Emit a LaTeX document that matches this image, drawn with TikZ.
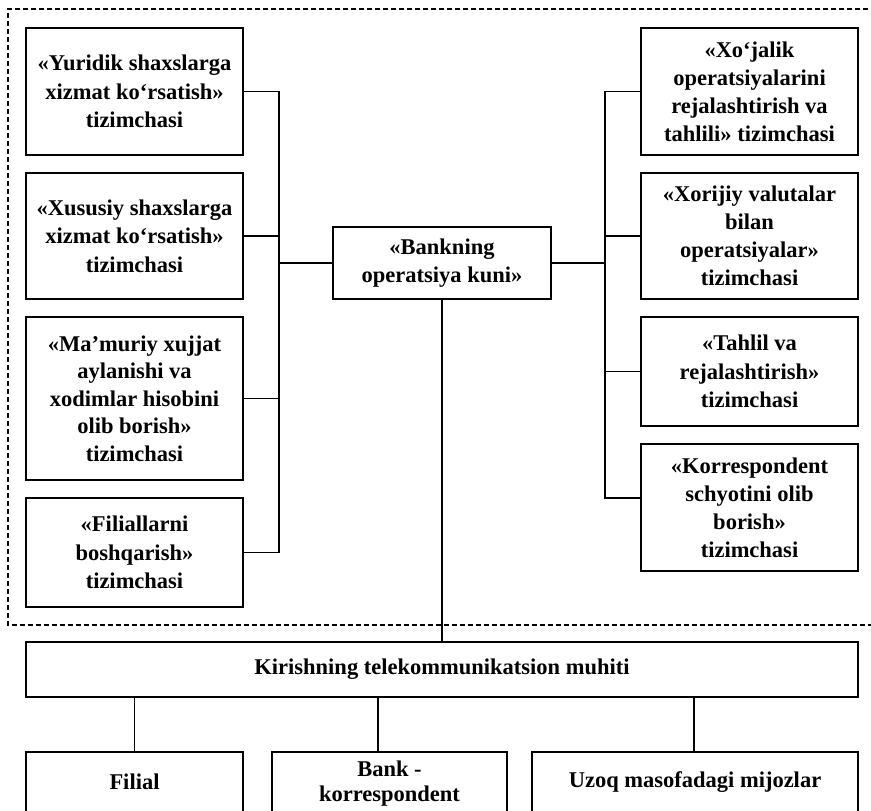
\documentclass[tikz,border=0pt]{standalone}
\usepackage{fontspec}
\setmainfont{Liberation Serif}
\begin{document}
\begin{tikzpicture}[x=1pt,y=-1pt,
  box/.style={draw,line width=1.7pt,inner sep=0pt,align=center,font=\bfseries\fontsize{22.5}{28.5}\selectfont},
  conn/.style={line width=1.5pt},
  thin/.style={line width=1.1pt}]
\useasboundingbox (0,0) rectangle (871,811);
\clip (0,0) rectangle (871,811);
\fill[white] (0,0) rectangle (871,811);
% dashed frame
\draw[line width=1.2pt,dash pattern=on 5pt off 3pt] (900,9) -- (8,9) -- (8,625) -- (900,625);
% left boxes
\node[box,minimum width=217pt,minimum height=127pt] (L1) at (134.5,91.5) {«Yuridik shaxslarga\\xizmat ko‘rsatish»\\tizimchasi};
\node[box,minimum width=217pt,minimum height=126pt] (L2) at (134.5,236) {«Xususiy shaxslarga\\xizmat ko‘rsatish»\\tizimchasi};
\node[box,minimum width=217pt,minimum height=163pt,font=\bfseries\fontsize{22.5}{27.5}\selectfont] (L3) at (134.5,398.5) {«Ma’muriy xujjat\\aylanishi va\\xodimlar hisobini\\olib borish»\\tizimchasi};
\node[box,minimum width=217pt,minimum height=109pt] (L4) at (134.5,552.5) {«Filiallarni\\boshqarish»\\tizimchasi};
% right boxes
\node[box,minimum width=217pt,minimum height=127pt,font=\bfseries\fontsize{22.5}{28}\selectfont] (R1) at (749.5,91.5) {«Xo‘jalik\\operatsiyalarini\\rejalashtirish va\\tahlili» tizimchasi};
\node[box,minimum width=217pt,minimum height=126pt,font=\bfseries\fontsize{22.5}{28}\selectfont] (R2) at (749.5,236) {«Xorijiy valutalar\\bilan\\operatsiyalar»\\tizimchasi};
\node[box,minimum width=217pt,minimum height=109pt] (R3) at (749.5,371.5) {«Tahlil va\\rejalashtirish»\\tizimchasi};
\node[box,minimum width=217pt,minimum height=127pt,font=\bfseries\fontsize{22.5}{28}\selectfont] (R4) at (749.5,507.5) {«Korrespondent\\schyotini olib\\borish»\\tizimchasi};
% centre
\node[box,minimum width=218pt,minimum height=72pt] (C) at (442,263) {«Bankning\\operatsiya kuni»};
% telecom
\node[box,minimum width=832pt,minimum height=55pt] (T) at (442,669.5) {Kirishning telekommunikatsion muhiti};
% bottom boxes
\node[box,minimum width=217pt,minimum height=60pt] (B1) at (134.5,782) {Filial};
\node[box,minimum width=235pt,minimum height=64pt,font=\bfseries\fontsize{22.5}{25}\selectfont] (B2) at (389.5,784) {Bank -\\korrespondent};
\node[box,minimum width=326pt,minimum height=60pt] (B3) at (695,782) {Uzoq masofadagi mijozlar};
% buses
\coordinate (lb) at (279,263);
\coordinate (rb) at (605,263);
\draw[conn] (L1.east) -| (lb);
\draw[conn] (L2.east) -| (lb);
\draw[conn] (L3.east) -| (lb);
\draw[conn] (L4.east) -| (lb);
\draw[conn] (C.west) -- (lb);
\draw[conn] (R1.west) -| (rb);
\draw[conn] (R2.west) -| (rb);
\draw[conn] (R3.west) -| (rb);
\draw[conn] ([yshift=9.5pt]R4.west) -| (rb);
\draw[conn] (C.east) -- (rb);
\draw[conn] (C.south) -- (T.north);
\coordinate (b2top) at (378,752);
\coordinate (b3top) at (694,752);
\draw[thin] (T.south -| B1.north) -- (B1.north);
\draw[thin] (T.south -| b2top) -- (b2top);
\draw[thin] (T.south -| b3top) -- (b3top);
\end{tikzpicture}
\end{document}
